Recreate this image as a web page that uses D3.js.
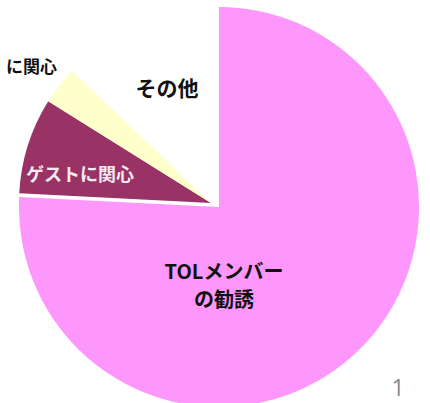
<!DOCTYPE html>
<html>
<head>
<meta charset="utf-8">
<script src="https://cdn.jsdelivr.net/npm/d3@7"></script>
<style>
  body { margin: 0; background: #fff; }
  svg { display: block; }
</style>
</head>
<body>
<div class="chart"></div>
<script>

const categories = ['TOLメンバーの勧誘', 'ゲストに関心', 'に関心', 'その他'];
const values = [75.8, 8.1, 3.2, 12.9];
const colors = ['#fd97fb', '#993366', '#ffffcc', '#ffffff'];

const width = 430;
const height = 403;
const r = 192;


buildChart();


function buildChart() {

    const svg = d3.select('.chart')
        .append('svg')
        .attr('width', width)
        .attr('height', height);

    let color = d3.scaleOrdinal()
        .domain(categories)
        .range(colors);

    let pie = d3.pie()
        .sort(null)
        .value( (d, i) => values[i] );

    let arcs = pie(categories);

    let arc = d3.arc()
        .innerRadius(0)
        .outerRadius(r);

    // the big slice is pulled out a little and drawn slightly larger
    let bigArc = d3.arc()
        .innerRadius(0)
        .outerRadius(r + 8);

    let group = svg.append('g')
        .attr('transform', 'translate(211, 203)');

    group.selectAll('.slice')
        .data(arcs)
        .enter()
        .append('path')
        .attr('class', 'slice')
        .attr('transform', (d, i) => i === 0 ? 'translate(8, 4)' : null)
        .attr('d', (d, i) => i === 0 ? bigArc(d) : arc(d))
        .attr('fill', (d) => color(d.data));

    // labels
    const label = svg.append('g')
        .attr('font-family', '"Noto Sans CJK JP", sans-serif')
        .attr('font-weight', 'bold');

    let main = label.append('text')
        .attr('x', 224)
        .attr('y', 279)
        .attr('text-anchor', 'middle')
        .attr('font-size', 20)
        .attr('fill', '#111');
    main.append('tspan').attr('x', 224).text('TOLメンバー');
    main.append('tspan').attr('x', 224).attr('dy', 28).text('の勧誘');

    label.append('text')
        .attr('x', 80)
        .attr('y', 181)
        .attr('text-anchor', 'middle')
        .attr('font-size', 18)
        .attr('fill', '#f5eaf0')
        .text(categories[1]);

    label.append('text')
        .attr('x', 57)
        .attr('y', 73)
        .attr('text-anchor', 'end')
        .attr('font-size', 17)
        .attr('fill', '#111')
        .text(categories[2]);

    label.append('text')
        .attr('x', 167)
        .attr('y', 96)
        .attr('text-anchor', 'middle')
        .attr('font-size', 21)
        .attr('fill', '#111')
        .text(categories[3]);

    svg.append('text')
        .attr('x', 398)
        .attr('y', 396)
        .attr('text-anchor', 'middle')
        .attr('font-family', '"Open Sans", sans-serif')
        .attr('font-size', 23)
        .attr('fill', '#8a8a8a')
        .text('1');

}

</script>
</body>
</html>
